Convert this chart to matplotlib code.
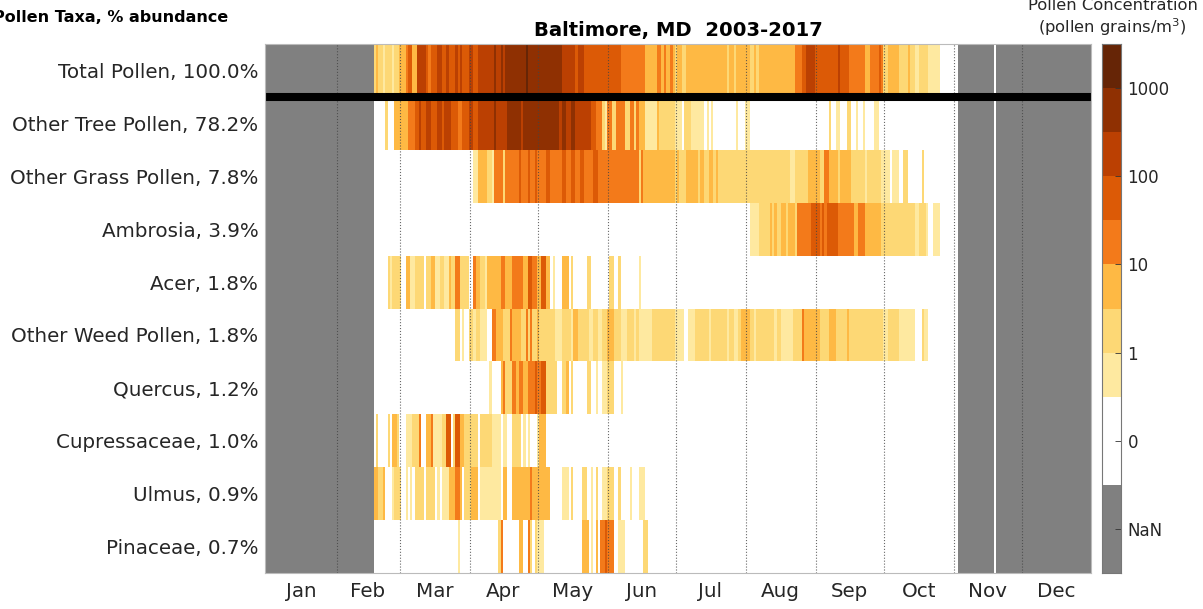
import numpy as np
import matplotlib
matplotlib.use("Agg")
import matplotlib.pyplot as plt
from matplotlib.colors import ListedColormap, BoundaryNorm

months = ['Jan','Feb','Mar','Apr','May','Jun','Jul','Aug','Sep','Oct','Nov','Dec']
month_len = [31,28,31,30,31,30,31,31,30,31,30,31]
taxa = ['Total Pollen, 100.0%','Other Tree Pollen, 78.2%','Other Grass Pollen, 7.8%','Ambrosia, 3.9%','Acer, 1.8%',
        'Other Weed Pollen, 1.8%','Quercus, 1.2%','Cupressaceae, 1.0%','Ulmus, 0.9%','Pinaceae, 0.7%']
nan_spans = [(0,48),(306,322),(323,365)]
colors = ['#808080','#ffffff','#FEE9A0','#FDD875','#FEB944','#F37A1A','#DC5A06','#BB4002','#8F3002','#662506']
cbar_bounds = [0,2,4,5,6,7,8,9,10,11,12]
cbar_ticks = [1,3,5,7,9,11]
cbar_labels = ['NaN','0','1','10','100','1000']

total_d = [48,49,50,52,53,56,57,59,62,63,65,67,71,72,73,76,78,80,81,84,85,86,87,90,92,94,101,102,104,105,106,115,116,131,137,138,141,157,168,173,
           175,176,177,179,180,181,182,184,186,204,205,207,208,214,216,217,218,234,237,239,243,253,254,258,265,267,271,272,273,275,280,284,285,287,289,293,298]
total_l = [3,4,3,2,3,2,3,4,5,6,4,7,6,5,6,7,6,7,6,7,6,7,6,7,6,7,8,7,8,7,8,9,8,7,6,7,6,5,4,5,
           4,5,4,5,4,3,4,3,4,3,4,3,4,3,4,3,4,5,6,7,6,7,6,5,4,5,6,5,3,4,3,4,3,2,3,2,1]
tree_d = [53,54,57,63,66,68,69,71,73,76,78,79,82,85,87,90,92,94,101,102,107,113,114,130,131,133,135,137,144,146,149,150,151,153,155,159,161,163,164,165,168,173,
          174,181,184,185,188,194,195,196,197,198,208,209,212,214,249,250,252,254,257,259,261,262,264,265,269,271]
tree_l = [3,1,4,5,6,7,6,7,6,7,6,7,6,5,6,7,6,7,8,7,8,7,8,7,8,7,8,7,6,5,3,2,5,3,5,3,5,3,5,4,2,4,
          3,2,1,3,2,1,2,1,2,1,2,1,2,1,3,1,2,1,3,1,2,1,2,1,2,1]
grass_d = [92,94,98,100,101,105,106,112,113,116,117,119,120,124,126,131,133,135,137,139,141,145,147,165,166,167,
           181,182,183,186,191,192,194,196,198,199,200,232,234,240,245,247,249,253,254,259,265,266,272,276,277,280,282,284,290,291]
grass_l = [2,4,3,2,5,3,5,6,5,6,5,6,5,6,5,6,5,6,5,6,5,6,5,3,5,4,
           3,4,3,4,3,4,3,4,3,4,3,2,3,4,3,5,4,3,4,3,2,3,2,1,2,1,3,1,3,1]
ambrosia_d = [214,218,223,224,225,226,228,230,231,234,235,241,245,246,247,248,253,260,262,265,272,287,289,292,293,295,298]
ambrosia_l = [2,3,4,3,4,3,4,3,4,3,5,6,5,6,5,6,5,4,5,4,3,2,3,2,1,2,1]
acer_d = [54,55,56,60,62,64,66,70,71,73,75,77,79,81,82,84,86,90,92,93,95,97,98,104,106,109,114,116,118,120,122,124,126,127,128,131,134,135,136,142,144,152,154,156,157,165,166]
acer_l = [3,2,3,1,4,2,3,1,3,4,2,3,2,4,3,5,3,1,5,4,3,2,4,5,4,5,4,6,5,4,6,4,1,2,1,4,1,3,1,3,1,3,1,3,1,2,1]
weed_d = [84,86,87,88,90,92,93,95,98,100,102,105,108,109,113,115,116,117,118,120,121,128,131,135,136,138,143,145,147,149,151,154,157,160,163,164,165,171,181,185,187,190,196,197,204,205,207,209,210,214,216,217,225,226,228,233,237,238,245,249,252,257,258,273,275,280,287,290,291,293]
weed_l = [3,1,2,1,3,2,3,2,1,5,4,3,5,4,3,5,3,5,3,4,3,2,3,2,4,3,2,3,2,3,4,3,2,3,2,3,2,3,2,1,2,3,2,3,2,3,2,3,4,3,2,3,2,3,2,3,5,4,3,4,3,4,3,2,3,2,1,3,2,1]
quercus_d = [99,100,104,105,106,109,111,112,114,116,119,120,122,124,129,131,133,134,135,136,142,144,146,147,149,151,154,157,158]
quercus_l = [2,1,4,5,3,5,4,5,4,5,6,5,6,3,1,3,4,1,3,1,3,1,2,1,2,3,1,2,1]
cupress_d = [49,50,54,55,56,58,59,62,65,68,69,71,73,74,78,80,82,83,84,86,88,94,95,100,104,105,107,109,113,114,115,116,117,120,121,124]
cupress_l = [3,1,3,1,4,3,1,2,3,5,1,4,5,2,3,6,1,3,6,4,3,1,3,2,1,2,1,3,1,2,1,2,1,2,4,1]
ulmus_d = [48,50,52,53,56,57,60,62,63,64,65,66,70,71,75,76,77,78,81,84,86,87,88,91,94,95,104,105,107,109,117,118,126,131,134,135,136,140,142,144,145,146,147,149,151,154,156,157,161,162,165,168]
ulmus_l = [4,3,4,1,2,3,1,2,1,2,1,3,1,3,1,2,1,2,4,5,4,1,3,4,1,2,1,4,1,4,5,4,1,2,1,3,1,3,1,2,1,3,1,2,3,1,3,1,2,1,2,1]
pinaceae_d = [85,86,103,104,105,112,114,116,117,118,119,120,123,140,143,144,145,146,147,148,150,151,154,156,159,167,169]
pinaceae_l = [2,1,3,5,1,4,1,5,3,1,3,2,1,4,1,2,1,4,1,5,6,5,1,2,1,3,1]

series = [(total_d,total_l),(tree_d,tree_l),(grass_d,grass_l),(ambrosia_d,ambrosia_l),(acer_d,acer_l),
          (weed_d,weed_l),(quercus_d,quercus_l),(cupress_d,cupress_l),(ulmus_d,ulmus_l),(pinaceae_d,pinaceae_l)]

def expand(days, levels):
    row = np.ones(365)
    for i, (d, l) in enumerate(zip(days, levels)):
        end = days[i+1] if i+1 < len(days) else 365
        row[d:end] = l
    for a, b in nan_spans:
        row[a:b] = 0
    return row

grid = np.array([expand(d, l) for d, l in series])
cmap = ListedColormap(colors)
norm = BoundaryNorm(np.arange(-0.5, 10.5), 10)

W, H = 1203, 609
fig = plt.figure(figsize=(W/100, H/100), dpi=100)
ax = fig.add_axes([265.3/W, 1-573/H, 826/W, 529/H])
ax.pcolormesh(np.arange(366), np.arange(11), grid, cmap=cmap, norm=norm, antialiased=False, linewidth=0)
ax.set_xlim(0, 365)
ax.set_ylim(10, 0)
edges = np.cumsum([0]+month_len)
for e in edges[1:-1]:
    ax.axvline(e+0.5, color='#444444', ls=':', lw=0.8, alpha=0.8)
ax.axhline(1, color='black', lw=5.8, solid_capstyle='butt')
ax.set_xticks((edges[:-1]+edges[1:])/2+0.2)
ax.set_xticklabels(months, fontsize=14.3, color='#262626')
ax.set_yticks(np.arange(10)+0.5)
ax.set_yticklabels(taxa, fontsize=14.3, color='#262626')
ax.tick_params(axis='y', length=0, pad=5)
ax.tick_params(axis='x', length=0, pad=6.5)
for s in ax.spines.values():
    s.set_color('#bbbbbb'); s.set_linewidth(0.8)

fig.text(678/W, 1-30.5/H, 'Baltimore, MD  2003-2017', fontsize=14.1, fontweight='bold', ha='center', va='center', color='black')
fig.text(228/W, 1-17/H, 'Pollen Taxa, % abundance', fontsize=11.5, fontweight='bold', ha='right', va='center', color='black')
fig.text(1113/W, 1-5/H, 'Pollen Concentration', fontsize=11.8, ha='center', va='center', color='#262626')
fig.text(1112/W, 1-27.5/H, '(pollen grains/m$^3$)', fontsize=11.8, ha='center', va='center', color='#262626')

cax = fig.add_axes([1102/W, 1-573/H, 18.5/W, 529/H])
cax.pcolormesh([0,1], cbar_bounds, np.arange(10).reshape(-1,1), cmap=cmap, norm=norm, antialiased=False, linewidth=0)
cax.set_xticks([])
cax.yaxis.tick_right()
cax.set_yticks(cbar_ticks)
cax.set_yticklabels(cbar_labels, fontsize=12, color='#262626')
cax.tick_params(axis='y', direction='in', length=4, width=0.6, color='#333333', pad=5)
for s in cax.spines.values():
    s.set_color('#777777'); s.set_linewidth(0.8)

fig.savefig('out.png', dpi=100)
